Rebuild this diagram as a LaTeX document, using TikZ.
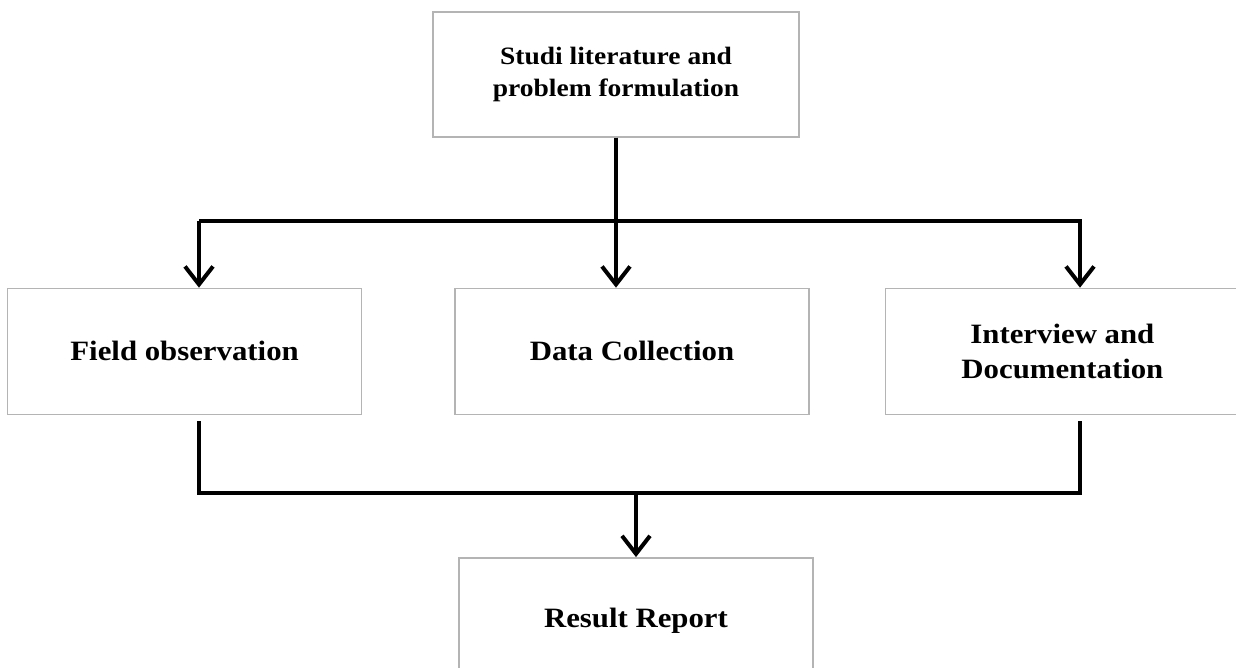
\documentclass[tikz,border=0pt]{standalone}
\usepackage{fontspec}
\setmainfont{Liberation Serif}[FakeStretch=1.1]
\usepackage{xcolor}
\definecolor{white}{RGB}{255,255,255}
\definecolor{boxgray}{HTML}{B4B4B4}
\usepackage{tikz}
\usetikzlibrary{positioning,arrows.meta}

\begin{document}
\begin{tikzpicture}[x = 0.5pt, y = -0.5pt, node distance = 75pt,
    stage/.style={
    	rectangle, minimum width = 177pt, minimum height = 63pt,
    	line width = 0.7pt, draw = boxgray, fill = white, align = center,
    	font = \fontsize{14}{17.5}\selectfont\bfseries},
    flow/.style={line width = 2pt, draw = black},
    flowarrow/.style={flow, -{Straight Barb[length=9pt,width=14pt,line width=2pt]}}]
    	\useasboundingbox (0,0) rectangle (1236,668);
    	\node (lit) [stage, minimum width = 183pt, minimum height = 62.5pt,
    		font = \fontsize{12.5}{16}\selectfont\bfseries] at (616,74.5)
    		{Studi literature and\\problem formulation};
    	\node (data) [stage, below=75pt of lit, xshift=8pt] {Data Collection};
    	\node (field) [stage, left=46pt of data] {Field observation};
    	\node (interview) [stage, right=37.5pt of data] {Interview and\\Documentation};
    	\node (result) [stage, below=71pt of data, xshift=2pt] {Result Report};
    	\coordinate (splitL) at (199,221);
    	\coordinate (splitR) at (1080,221);
    	\coordinate (joinL) at (199,493);
    	\coordinate (joinR) at (1080,493);
    	\draw [flow] (lit.south) -- (lit.south |- splitL);
    	\draw [flowarrow] (splitL) -- (splitR) -- (splitR |- interview.north);
    	\draw [flowarrow] (splitL) -- (splitL |- field.north);
    	\draw [flowarrow] (lit.south) -- (lit.south |- data.north);
    	\draw [flow] ([yshift=-3pt] joinL |- field.south) -- (joinL) -- (joinR)
    		-- ([yshift=-3pt] joinR |- interview.south);
    	\draw [flowarrow] (result.north |- joinL) -- (result.north);
	\end{tikzpicture}
\end{document}
